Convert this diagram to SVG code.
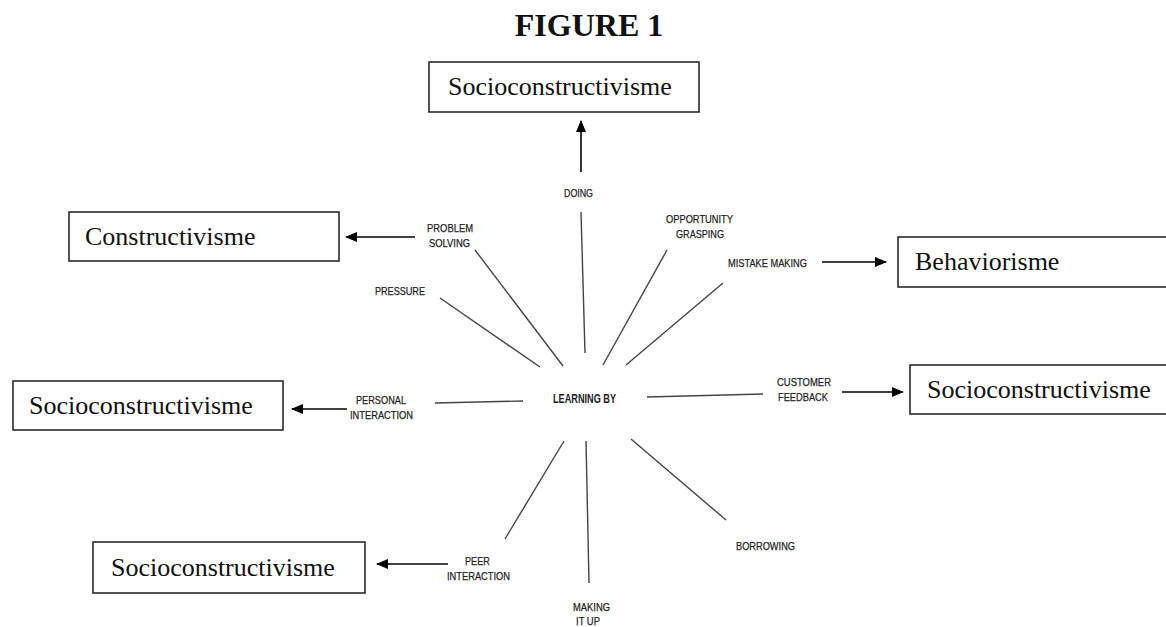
<svg xmlns="http://www.w3.org/2000/svg" width="1166" height="627" viewBox="0 0 1166 627">
<style>
.box{fill:#fff;stroke:#2a2a2a;stroke-width:1.6}
.big{font-family:"Liberation Serif","Times New Roman",serif;font-size:26px;fill:#111}
.lbl{font-family:"Liberation Sans",Arial,sans-serif;font-size:11.5px;fill:#1e1e1e;stroke:#1e1e1e;stroke-width:0.25}
.ctr{font-family:"Liberation Sans",Arial,sans-serif;font-size:12.5px;font-weight:bold;fill:#1a1a1a}
.spoke{stroke:#444;stroke-width:1.4;fill:none}
.arr{stroke:#000;stroke-width:1.6;fill:none;marker-end:url(#ah)}
</style>
<defs>
<marker id="ah" viewBox="0 0 12 10" refX="11" refY="5" markerWidth="12" markerHeight="10" markerUnits="userSpaceOnUse" orient="auto">
<path d="M0,0 L12,5 L0,10 Z" fill="#000"/>
</marker>
</defs>
<rect width="1166" height="627" fill="#fff"/>
<text x="589" y="36" text-anchor="middle" font-family="'Liberation Serif','Times New Roman',serif" font-size="32" font-weight="bold" fill="#111">FIGURE 1</text>

<g id="connectors">
<line class="spoke" x1="581" y1="212" x2="585" y2="353"/>
<line class="spoke" x1="475" y1="250" x2="563" y2="366"/>
<line class="spoke" x1="667" y1="250" x2="603" y2="365"/>
<line class="spoke" x1="723" y1="283" x2="626" y2="365"/>
<line class="spoke" x1="440" y1="298" x2="540" y2="367"/>
<line class="spoke" x1="435" y1="403" x2="523" y2="401"/>
<line class="spoke" x1="647" y1="397" x2="763" y2="394"/>
<line class="spoke" x1="564" y1="441" x2="505" y2="539"/>
<line class="spoke" x1="586" y1="441" x2="589" y2="583"/>
<line class="spoke" x1="631" y1="439" x2="726" y2="520"/>
<line class="arr" x1="581" y1="172" x2="581" y2="121"/>
<line class="arr" x1="415" y1="237" x2="346" y2="237"/>
<line class="arr" x1="822" y1="262" x2="886" y2="262"/>
<line class="arr" x1="347" y1="409" x2="292" y2="409"/>
<line class="arr" x1="842" y1="392" x2="903" y2="392"/>
<line class="arr" x1="448" y1="564" x2="377" y2="564"/>
</g>

<g id="learning-by"><text class="ctr" x="553" y="403" textLength="63" lengthAdjust="spacingAndGlyphs">LEARNING BY</text></g>
<g id="doing"><text class="lbl" x="564" y="197" textLength="29" lengthAdjust="spacingAndGlyphs">DOING</text></g>
<g id="problem-solving">
<text class="lbl" x="427" y="232" textLength="46" lengthAdjust="spacingAndGlyphs">PROBLEM</text>
<text class="lbl" x="429" y="247" textLength="41" lengthAdjust="spacingAndGlyphs">SOLVING</text>
</g>
<g id="opportunity-grasping">
<text class="lbl" x="666" y="223" textLength="67" lengthAdjust="spacingAndGlyphs">OPPORTUNITY</text>
<text class="lbl" x="676" y="238" textLength="48" lengthAdjust="spacingAndGlyphs">GRASPING</text>
</g>
<g id="mistake-making"><text class="lbl" x="728" y="267" textLength="79" lengthAdjust="spacingAndGlyphs">MISTAKE MAKING</text></g>
<g id="pressure"><text class="lbl" x="375" y="295" textLength="50" lengthAdjust="spacingAndGlyphs">PRESSURE</text></g>
<g id="personal-interaction">
<text class="lbl" x="356" y="404" textLength="50" lengthAdjust="spacingAndGlyphs">PERSONAL</text>
<text class="lbl" x="350" y="419" textLength="63" lengthAdjust="spacingAndGlyphs">INTERACTION</text>
</g>
<g id="customer-feedback">
<text class="lbl" x="777" y="386" textLength="54" lengthAdjust="spacingAndGlyphs">CUSTOMER</text>
<text class="lbl" x="778" y="401" textLength="50" lengthAdjust="spacingAndGlyphs">FEEDBACK</text>
</g>
<g id="borrowing"><text class="lbl" x="736" y="550" textLength="59" lengthAdjust="spacingAndGlyphs">BORROWING</text></g>
<g id="peer-interaction">
<text class="lbl" x="465" y="565" textLength="25" lengthAdjust="spacingAndGlyphs">PEER</text>
<text class="lbl" x="447" y="580" textLength="63" lengthAdjust="spacingAndGlyphs">INTERACTION</text>
</g>
<g id="making-it-up">
<text class="lbl" x="573" y="611" textLength="37" lengthAdjust="spacingAndGlyphs">MAKING</text>
<text class="lbl" x="576" y="625" textLength="24" lengthAdjust="spacingAndGlyphs">IT UP</text>
</g>

<g id="box-top">
<rect class="box" x="429" y="62" width="270" height="50"/>
<text class="big" x="448" y="95">Socioconstructivisme</text>
</g>
<g id="box-constructivisme">
<rect class="box" x="69" y="212" width="270" height="49"/>
<text class="big" x="85" y="245">Constructivisme</text>
</g>
<g id="box-behaviorisme">
<rect class="box" x="898" y="237" width="275" height="50"/>
<text class="big" x="915" y="270">Behaviorisme</text>
</g>
<g id="box-left">
<rect class="box" x="13" y="381" width="270" height="49"/>
<text class="big" x="29" y="414">Socioconstructivisme</text>
</g>
<g id="box-right">
<rect class="box" x="910" y="365" width="262" height="49"/>
<text class="big" x="927" y="398">Socioconstructivisme</text>
</g>
<g id="box-bottom">
<rect class="box" x="93" y="542" width="272" height="51"/>
<text class="big" x="111" y="576">Socioconstructivisme</text>
</g>
</svg>
